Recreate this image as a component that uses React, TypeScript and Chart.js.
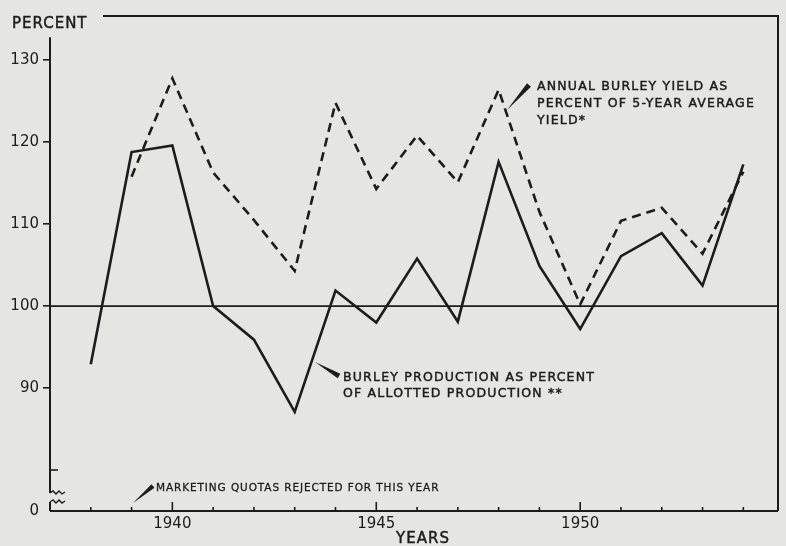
import React, { useEffect, useRef } from "react";
import { Chart, registerables } from "chart.js";

Chart.register(...registerables);

const productionYears = [1938, 1939, 1940, 1941, 1942, 1943, 1944, 1945, 1946, 1947, 1948, 1949, 1950, 1951, 1952, 1953, 1954];
const productionPct = [92.9, 118.8, 119.6, 100.0, 95.9, 87.1, 101.9, 98.0, 105.8, 98.1, 117.6, 104.9, 97.2, 106.1, 108.9, 102.5, 117.3];

const yieldYears = [1939, 1940, 1941, 1942, 1943, 1944, 1945, 1946, 1947, 1948, 1949, 1950, 1951, 1952, 1953, 1954];
const yieldPct = [115.8, 127.8, 116.3, 110.5, 104.3, 124.8, 114.3, 120.8, 115.1, 126.4, 111.5, 100.2, 110.4, 112.0, 106.4, 116.4];

const yTickValues = [75, 80, 90, 100, 110, 120, 130];
const yTickLabels = ["0", "", "90", "100", "110", "120", "130"];
const yInnerTicks = [80];
const xTickYears = [1938, 1939, 1940, 1941, 1942, 1943, 1944, 1945, 1946, 1947, 1948, 1949, 1950, 1951, 1952, 1953, 1954];
const xLabelYears = [1940, 1945, 1950];

const referenceLevel = 100;
const xMin = 1937;
const xMax = 1954.85;
const yMin = 75;
const yMax = 135.4;
const yAxisTop = 132.8;

const yieldNote = ["ANNUAL BURLEY YIELD AS", "PERCENT OF 5-YEAR AVERAGE", "YIELD*"];
const productionNote = ["BURLEY PRODUCTION AS PERCENT", "OF ALLOTTED PRODUCTION **"];
const quotaNote = "MARKETING QUOTAS REJECTED FOR THIS YEAR";

const INK = "#1c1c1c";
const BG = "#e5e5e2";
const FONT = "'DejaVu Sans', sans-serif";

function wedge(ctx: CanvasRenderingContext2D, x1: number, y1: number, x2: number, y2: number, w: number) {
  const dx = x2 - x1;
  const dy = y2 - y1;
  const len = Math.hypot(dx, dy);
  const nx = -dy / len;
  const ny = dx / len;
  ctx.beginPath();
  ctx.moveTo(x1, y1);
  ctx.lineTo(x2 + nx * w, y2 + ny * w);
  ctx.lineTo(x2 - nx * w, y2 - ny * w);
  ctx.closePath();
  ctx.fill();
}

function heavyText(ctx: CanvasRenderingContext2D, t: string, x: number, y: number) {
  ctx.fillText(t, x, y);
  ctx.strokeText(t, x, y);
}

const decorPlugin = {
  id: "decor",
  beforeDraw(chart: any) {
    const ctx = chart.ctx;
    ctx.save();
    ctx.fillStyle = BG;
    ctx.fillRect(0, 0, chart.width, chart.height);
    ctx.restore();
  },
  afterDraw(chart: any) {
    const ctx: CanvasRenderingContext2D = chart.ctx;
    const xs = chart.scales.x;
    const ys = chart.scales.y;
    const area = chart.chartArea;
    const left = area.left;
    const right = area.right;
    const bottom = ys.getPixelForValue(yMin);
    const top = area.top;
    ctx.save();
    ctx.strokeStyle = INK;
    ctx.fillStyle = INK;
    ctx.lineCap = "butt";

    // left axis (with break)
    ctx.lineWidth = 2;
    const breakTop = ys.getPixelForValue(77.2);
    const breakBot = ys.getPixelForValue(76.1);
    ctx.beginPath();
    ctx.moveTo(left, ys.getPixelForValue(yAxisTop));
    ctx.lineTo(left, breakTop);
    ctx.moveTo(left, breakBot);
    ctx.lineTo(left, bottom);
    ctx.stroke();

    // inner y ticks
    ctx.lineWidth = 1.6;
    yInnerTicks.forEach((v) => {
      const py = ys.getPixelForValue(v);
      ctx.beginPath();
      ctx.moveTo(left, py);
      ctx.lineTo(left + 8, py);
      ctx.stroke();
    });

    // break squiggles
    ctx.lineWidth = 1.4;
    [breakTop, breakBot].forEach((by) => {
      ctx.beginPath();
      ctx.moveTo(left, by);
      ctx.lineTo(left + 3, by - 2);
      ctx.lineTo(left + 6, by + 1);
      ctx.lineTo(left + 9, by - 2);
      ctx.lineTo(left + 12, by + 1);
      ctx.lineTo(left + 15, by - 1);
      ctx.stroke();
    });

    // bottom axis
    ctx.lineWidth = 2;
    ctx.beginPath();
    ctx.moveTo(left, bottom);
    ctx.lineTo(right, bottom);
    ctx.stroke();

    // top frame line and right border
    ctx.beginPath();
    ctx.moveTo(103, top);
    ctx.lineTo(right, top);
    ctx.lineTo(right, bottom);
    ctx.stroke();

    // x ticks, inward
    ctx.lineWidth = 1.6;
    xTickYears.forEach((yr) => {
      const px = xs.getPixelForValue(yr);
      const len = xLabelYears.includes(yr) ? 9 : 4;
      ctx.beginPath();
      ctx.moveTo(px, bottom);
      ctx.lineTo(px, bottom - len);
      ctx.stroke();
    });

    // texts
    ctx.lineWidth = 0.45;
    (ctx as any).letterSpacing = "1px";
    ctx.textBaseline = "alphabetic";
    ctx.textAlign = "left";
    ctx.font = `15px ${FONT}`;
    heavyText(ctx, "PERCENT", 12, 28);

    ctx.textAlign = "center";
    ctx.font = `15px ${FONT}`;
    heavyText(ctx, "YEARS", 423, 543);

    ctx.textAlign = "left";
    ctx.font = `12.5px ${FONT}`;
    (ctx as any).letterSpacing = "1.2px";
    yieldNote.forEach((t, i) => heavyText(ctx, t, 537, 90 + i * 17));
    productionNote.forEach((t, i) => heavyText(ctx, t, 343, 381 + i * 15.5));

    ctx.font = `10.5px ${FONT}`;
    (ctx as any).letterSpacing = "0.9px";
    ctx.lineWidth = 0.3;
    heavyText(ctx, quotaNote, 156, 491);

    // arrows
    wedge(ctx, 507, 110, 529, 85, 2.6);
    wedge(ctx, 315, 362, 339, 376, 2.6);
    wedge(ctx, 133, 503, 153, 486, 2.3);

    ctx.restore();
  },
};

export default function App() {
  const canvasRef = useRef<HTMLCanvasElement | null>(null);

  useEffect(() => {
    const canvas = canvasRef.current;
    if (!canvas) return;
    const chart = new Chart(canvas, {
      type: "line",
      data: {
        datasets: [
          {
            label: "reference",
            data: [
              { x: xMin, y: referenceLevel },
              { x: xMax, y: referenceLevel },
            ],
            borderColor: INK,
            borderWidth: 1.6,
            pointRadius: 0,
          },
          {
            label: "Annual burley yield as percent of 5-year average yield",
            data: yieldYears.map((yr, i) => ({ x: yr, y: yieldPct[i] })),
            borderColor: INK,
            borderWidth: 2.6,
            borderDash: [9, 6],
            pointRadius: 0,
            tension: 0,
          },
          {
            label: "Burley production as percent of allotted production",
            data: productionYears.map((yr, i) => ({ x: yr, y: productionPct[i] })),
            borderColor: INK,
            borderWidth: 2.6,
            pointRadius: 0,
            tension: 0,
          },
        ],
      },
      options: {
        responsive: false,
        animation: false,
        layout: { padding: { top: 16, right: 8, left: 0, bottom: 0 } },
        plugins: {
          legend: { display: false },
          tooltip: { enabled: false },
        },
        scales: {
          x: {
            type: "linear",
            min: xMin,
            max: xMax,
            afterBuildTicks: (scale: any) => {
              scale.ticks = xTickYears.map((v) => ({ value: v }));
            },
            afterFit: (scale: any) => {
              scale.height = 35;
            },
            ticks: {
              autoSkip: false,
              maxRotation: 0,
              padding: 4,
              color: INK,
              font: { family: FONT, size: 15 },
              callback: (v: any) => (xLabelYears.includes(Number(v)) ? String(v) : ""),
            },
            grid: { display: false, drawTicks: false },
            border: { display: false },
          },
          y: {
            type: "linear",
            min: yMin,
            max: yMax,
            afterBuildTicks: (scale: any) => {
              scale.ticks = yTickValues.map((v) => ({ value: v }));
            },
            afterFit: (scale: any) => {
              scale.width = 50;
            },
            ticks: {
              autoSkip: false,
              padding: 4,
              color: INK,
              font: { family: FONT, size: 15 },
              callback: (v: any) => {
                const idx = yTickValues.indexOf(Number(v));
                return idx >= 0 ? yTickLabels[idx] : "";
              },
            },
            grid: {
              drawOnChartArea: false,
              drawTicks: true,
              tickLength: 7,
              color: (c: any) =>
                c.tick && (c.tick.value === yMin || yInnerTicks.includes(c.tick.value)) ? "rgba(0,0,0,0)" : INK,
              lineWidth: 1.6,
            },
            border: { display: false },
          },
        },
      },
      plugins: [decorPlugin],
    } as any);
    return () => chart.destroy();
  }, []);

  return (
    <div style={{ position: "absolute", left: 0, top: 0, width: 786, height: 546 }}>
      <canvas ref={canvasRef} width={786} height={546} style={{ display: "block" }} />
    </div>
  );
}
